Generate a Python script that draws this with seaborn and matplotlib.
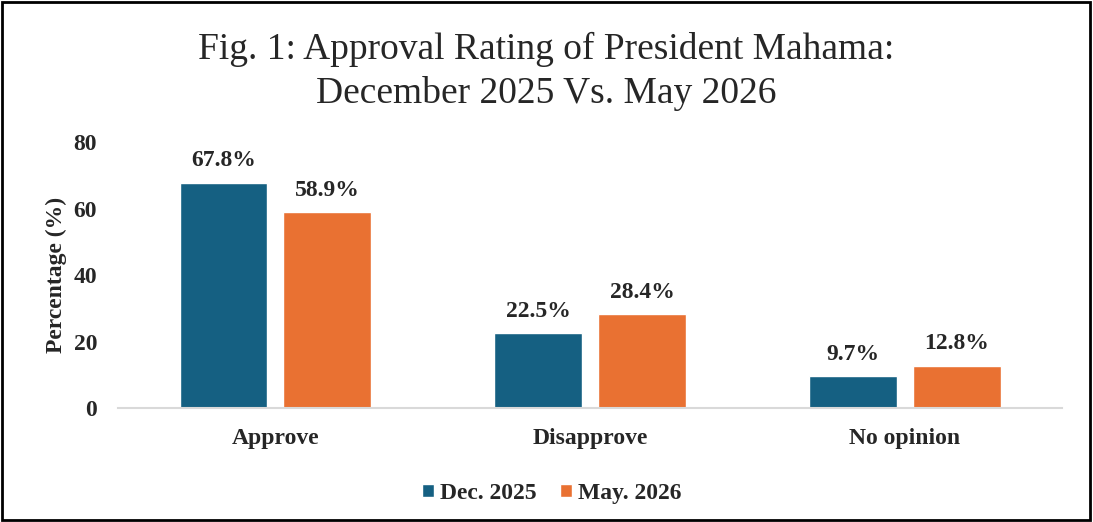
import matplotlib
matplotlib.use("Agg")
import matplotlib.pyplot as plt
import seaborn as sns
import pandas as pd
from matplotlib.patches import Rectangle

categories = ["Approve", "Disapprove", "No opinion"]
series = ["Dec. 2025", "May. 2026"]
dec_2025 = [67.8, 22.5, 9.7]
may_2026 = [58.9, 28.4, 12.8]
yticks = [0, 20, 40, 60, 80]

colors = ["#156082", "#E97132"]

sns.set_theme(style="white")
plt.rcParams['font.family'] = ['Liberation Serif', 'DejaVu Serif']

df = pd.DataFrame({
    "Category": categories * 2,
    "Series": [series[0]] * 3 + [series[1]] * 3,
    "Value": dec_2025 + may_2026,
})

fig = plt.figure(figsize=(10.93, 5.22), dpi=100)
ax = fig.add_axes([0.108, 0.218, 0.864, 0.51])

sns.barplot(data=df, x="Category", y="Value", hue="Series", order=categories,
            hue_order=series, palette=colors, width=0.66, gap=0.154,
            saturation=1, ax=ax, errorbar=None)

for cont in ax.containers:
    labels = [f"{v:.1f}%" for v in cont.datavalues]
    ax.bar_label(cont, labels=labels, padding=8, fontsize=17, fontweight="bold")

ax.set_ylim(0, 80)
ax.set_xlim(-0.5, 2.5)
ax.set_yticks(yticks)
ax.set_yticklabels([str(t) for t in yticks], fontsize=17, fontweight="bold")
for lab in ax.get_xticklabels():
    lab.set_fontsize(17)
    lab.set_fontweight("bold")
ax.tick_params(axis="y", length=0, pad=15)
ax.tick_params(axis="x", length=0, pad=14)
ax.set_xlabel("")
ax.set_ylabel("Percentage (%)", fontsize=17, fontweight="bold", labelpad=5)

for s in ["top", "right", "left"]:
    ax.spines[s].set_visible(False)
ax.spines["bottom"].set_color("#d9d9d9")
ax.spines["bottom"].set_linewidth(1.5)

leg = ax.legend(loc="upper center", bbox_to_anchor=(0.459, -0.20), ncol=2,
                frameon=False, prop={"size": 17, "weight": "bold"},
                handlelength=0.5, handleheight=0.5, handletextpad=0.25,
                columnspacing=1.0)

fig.text(0.5, 0.905, "Fig. 1: Approval Rating of President Mahama:", ha="center",
         va="center", fontsize=27)
fig.text(0.5, 0.82, "December 2025 Vs. May 2026", ha="center",
         va="center", fontsize=27)

fig.patches.append(Rectangle((0.002, 0.003), 0.995, 0.993, transform=fig.transFigure,
                             fill=False, edgecolor="black", linewidth=2))

fig.savefig("out.png", dpi=100)
